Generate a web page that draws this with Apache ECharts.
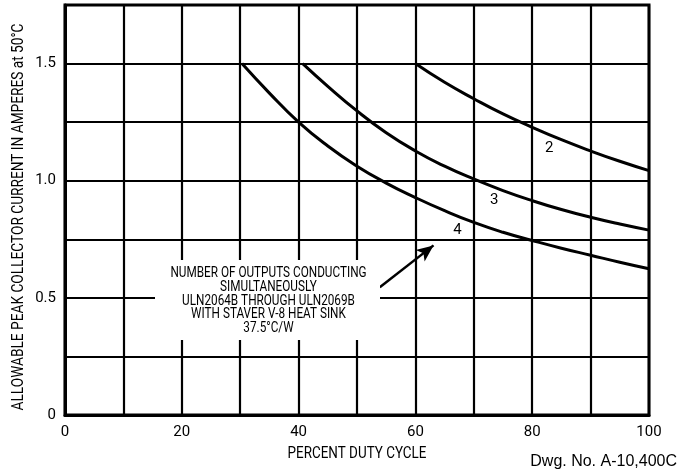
<!DOCTYPE html>
<html>
<head>
<meta charset="utf-8">
<script src="https://cdn.jsdelivr.net/npm/echarts@6/dist/echarts.min.js"></script>
<style>
  html, body { margin: 0; padding: 0; background: #fff; }
  #main { width: 698px; height: 475px; }
</style>
</head>
<body>
<div id="main"></div>
<script>
// curve data (duty cycle %, amperes)
var curve2 = [[60, 1.5], [65, 1.42], [70, 1.35], [75, 1.285], [80, 1.228], [85, 1.175], [90, 1.127], [95, 1.083], [100, 1.043]];
var curve3 = [[40.7, 1.5], [45, 1.403], [50, 1.298], [55, 1.205], [60, 1.127], [65, 1.062], [70, 1.007], [75, 0.958], [80, 0.915], [85, 0.877], [90, 0.844], [95, 0.815], [100, 0.789]];
var curve4 = [[30.3, 1.5], [35, 1.374], [40, 1.25], [45, 1.148], [50, 1.062], [55, 0.99], [60, 0.928], [65, 0.872], [70, 0.822], [75, 0.78], [80, 0.745], [85, 0.712], [90, 0.682], [95, 0.652], [100, 0.624]];
var curveNames = ['2', '3', '4'];
var curveLabelPos = [[82.9, 1.139], [73.5, 0.917], [67.2, 0.789]];
var arrowFrom = [53.9, 0.545];
var arrowTo = [63.1, 0.724];
var noteLines = ['NUMBER OF OUTPUTS CONDUCTING', 'SIMULTANEOUSLY', 'ULN2064B THROUGH ULN2069B', 'WITH STAVER V-8 HEAT SINK', '37.5\u00B0C/W'];
var xTitle = 'PERCENT DUTY CYCLE';
var yTitle = 'ALLOWABLE PEAK COLLECTOR CURRENT IN AMPERES at 50\u00B0C';
var dwgNo = 'Dwg. No. A-10,400C';

var myChart = echarts.init(document.getElementById('main'));

function curveSeries(data, idx) {
  return {
    type: 'line',
    data: data,
    smooth: true,
    showSymbol: false,
    lineStyle: { color: '#000', width: 3 },
    z: 5,
    markPoint: {
      symbol: 'circle',
      symbolSize: 0,
      data: [{ coord: curveLabelPos[idx], value: curveNames[idx] }],
      label: { show: true, color: '#000', fontSize: 15, fontFamily: 'Roboto', formatter: curveNames[idx] }
    }
  };
}

var series = [curveSeries(curve2, 0), curveSeries(curve3, 1), curveSeries(curve4, 2)];
// arrow from the note to the curves
series.push({
  type: 'line',
  data: [],
  z: 12,
  markLine: {
    silent: true,
    symbol: ['none', 'arrow'],
    symbolSize: [11, 17],
    lineStyle: { color: '#000', width: 2.5, type: 'solid' },
    label: { show: false },
    data: [[{ coord: arrowFrom }, { coord: arrowTo }]]
  }
});

myChart.setOption({
  animation: false,
  backgroundColor: '#fff',
  grid: { left: 65, right: 49, top: 5, bottom: 60, show: true, borderColor: '#000', borderWidth: 3 },
  xAxis: {
    type: 'value', min: 0, max: 100, interval: 10,
    axisLine: { show: true, lineStyle: { color: '#000', width: 3 } },
    axisTick: { show: false },
    axisLabel: { color: '#000', fontSize: 15, fontFamily: 'Roboto', margin: 10,
      formatter: function (v) { return v % 20 === 0 ? String(v) : ''; } },
    splitLine: { show: true, lineStyle: { color: '#000', width: 2.2 } }
  },
  yAxis: {
    type: 'value', min: 0, max: 1.75, interval: 0.25,
    axisLine: { show: true, lineStyle: { color: '#000', width: 3 } },
    axisTick: { show: false },
    axisLabel: { color: '#000', fontSize: 15, fontFamily: 'Roboto', margin: 9,
      formatter: function (v) {
        if (v === 0) return '0';
        return Math.abs(v * 2 - Math.round(v * 2)) < 1e-9 ? v.toFixed(1) : '';
      } },
    splitLine: { show: true, lineStyle: { color: '#000', width: 2.2 } }
  },
  graphic: [
    // white patch behind the note
    { type: 'rect', shape: { x: 155, y: 260, width: 225, height: 80 }, style: { fill: '#fff' }, z: 10 },
    {
      type: 'text', x: 268.5, y: 301, scaleX: 0.84, z: 11,
      style: {
        text: noteLines.join('\n'), fill: '#000', align: 'center', verticalAlign: 'middle',
        font: '14px Roboto', lineHeight: 13.7
      }
    },
    {
      type: 'text', x: 357, y: 454, scaleX: 0.84,
      style: { text: xTitle, fill: '#000', align: 'center', verticalAlign: 'middle', font: '16px Roboto' }
    },
    {
      type: 'text', x: 19, y: 217, rotation: Math.PI / 2, scaleX: 0.83,
      style: { text: yTitle, fill: '#000', align: 'center', verticalAlign: 'middle', font: '16.5px Roboto' }
    },
    {
      type: 'text', x: 677, y: 462,
      style: { text: dwgNo, fill: '#000', align: 'right', verticalAlign: 'middle', font: '16px "Liberation Sans", Arial, sans-serif' }
    }
  ],
  series: series
});
</script>
</body>
</html>
